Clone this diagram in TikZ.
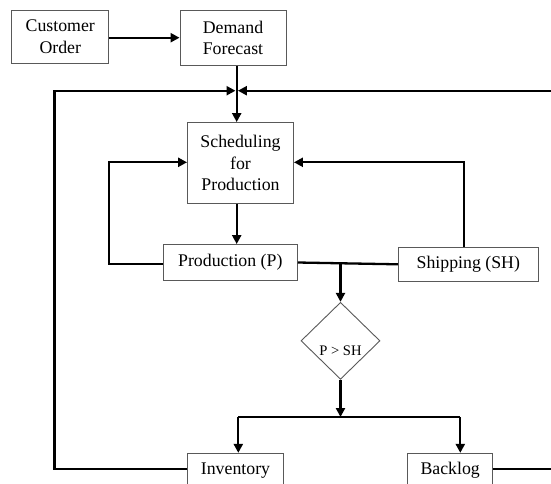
\documentclass[tikz,border=0pt]{standalone}
\usepackage{fontspec}
\setmainfont{Liberation Serif}
\usetikzlibrary{arrows.meta,shapes.geometric}
\begin{document}
\begin{tikzpicture}[x=1pt,y=-1pt,
  box/.style={draw=black!65,line width=0.9pt,fill=white,inner sep=0pt,align=center,
    font=\fontsize{17.8}{21.7}\selectfont},
  con/.style={line width=2.3pt,black},
  arr/.style={con,-{Triangle[length=9pt,width=9pt]}}]
\useasboundingbox (0,0) rectangle (551,483);
\clip (0,0) rectangle (551,483);
\fill[white] (0,0) rectangle (551,483);
% nodes
\node[box,minimum width=97pt,minimum height=53pt] (co) at (60.3,36.5) {Customer\\Order};
\node[box,minimum width=106pt,minimum height=55.5pt] (df) at (233,37.8) {Demand\\Forecast};
\node[box,minimum width=106pt,minimum height=81pt] (sch) at (240.5,163) {Scheduling\\for\\Production};
\node[box,minimum width=134pt,minimum height=36pt] (prod) at (230.3,262.5) {Production (P)};
\node[box,minimum width=140pt,minimum height=34pt] (ship) at (468.3,264.3) {Shipping (SH)};
\node[draw=black!65,line width=0.9pt,diamond,inner sep=0pt,minimum width=79pt,minimum height=77pt] (dia) at (340.5,340.8) {};
\node[font=\fontsize{14.6}{17}\selectfont,inner sep=0pt] (diat) at (340.5,351) {P > SH};
\node[box,minimum width=96pt,minimum height=34pt] (inv) at (235.5,470.3) {Inventory};
\node[box,minimum width=85pt,minimum height=34pt] (bl) at (450.2,470.3) {Backlog};
% coordinates
\coordinate (j) at (236.7,90.7);
\coordinate (lx) at (54.5,90.7);
\coordinate (rx) at (560,90.7);
\coordinate (ll) at (109,162.3);
\coordinate (rl) at (464,162.3);
\coordinate (pd) at (340.5,263.3);
\coordinate (br) at (340.5,417);
\coordinate (bl1) at (238.3,417);
\coordinate (bl2) at (460.3,417);
% connectors
\draw[arr] (co.east |- 0,37.7) -- (df.west |- 0,37.7);
\draw[arr] (df.south -| j) -- (sch.north -| j);
\draw[arr,shorten >=1.2pt] (inv.west |- 0,469.3) -| (lx) -- (j);
\draw[arr,shorten >=1.2pt] (bl.east |- 0,469.3) -| (rx) -- (j);
\draw[arr] (sch.south -| j) -- (prod.north -| j);
\draw[arr] (prod.west |- 0,264) -| (ll) -- (ll -| sch.west);
\draw[arr] (ship.north -| rl) -- (rl) -- (rl -| sch.east);
\draw[con] (prod.east) -- (ship.west);
\draw[arr] (pd) -- (dia.north);
\draw[arr] (dia.south) -- (br);
\draw[con] (bl1) -- (bl2);
\draw[arr] (bl1) -- (bl1 |- inv.north);
\draw[arr] (bl2) -- (bl2 |- bl.north);
\end{tikzpicture}
\end{document}
